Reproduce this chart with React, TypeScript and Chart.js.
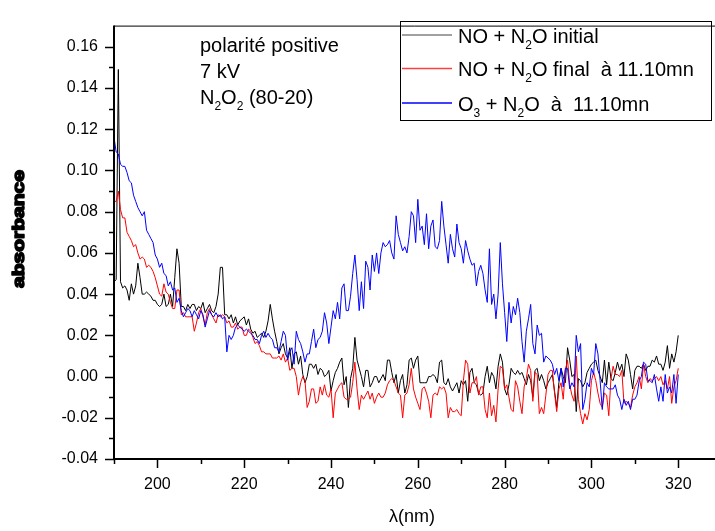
import React, { useEffect, useRef } from 'react';
import { Chart, registerables } from 'chart.js';

Chart.register(...registerables);

// Sampling grid of the spectra (nm)
const wavelengthStart = 190;
const wavelengthStep = 0.5;

// NO + N2O initial (black)
const noInitial = [
  0.046, 0.047, 0.149, 0.046, 0.043, 0.044, 0.042, 0.037, 0.045, 0.040,
  0.044, 0.055, 0.048, 0.040, 0.040, 0.041, 0.040, 0.039, 0.037, 0.037,
  0.035, 0.034, 0.035, 0.040, 0.034, 0.035, 0.040, 0.034, 0.048, 0.062,
  0.055, 0.034, 0.034, 0.032, 0.035, 0.033, 0.035, 0.035, 0.032, 0.034,
  0.033, 0.036, 0.031, 0.033, 0.035, 0.032, 0.031, 0.034, 0.040, 0.053,
  0.053, 0.030, 0.030, 0.028, 0.030, 0.026, 0.029, 0.025, 0.027, 0.028,
  0.029, 0.025, 0.028, 0.023, 0.021, 0.022, 0.019, 0.020, 0.021, 0.019,
  0.022, 0.027, 0.035, 0.028, 0.022, 0.017, 0.011, 0.014, 0.016, 0.011,
  0.009, 0.014, 0.004, 0.011, 0.012, 0.006, 0.010, 0.001, -0.003, 0.000,
  0.006, 0.006, 0.004, 0.006, 0.001, 0.004, 0.003, 0.000, 0.001, 0.003,
  -0.007, -0.002, 0.002, 0.004, 0.007, 0.009, -0.004, 0.000, -0.015, -0.001,
  0.004, 0.019, 0.008, 0.004, 0.000, -0.005, 0.003, 0.003, -0.005, -0.003,
  0.000, 0.000, -0.003, -0.001, 0.001, -0.002, 0.008, 0.008, 0.002, -0.003,
  0.001, -0.008, -0.002, 0.001, -0.008, -0.004, 0.008, 0.009, 0.004, 0.008,
  0.010, -0.003, -0.003, -0.003, -0.003, 0.000, 0.000, 0.001, 0.000, -0.003,
  0.007, 0.008, -0.003, -0.004, -0.001, -0.005, -0.007, -0.005, -0.003, -0.008,
  -0.002, -0.004, -0.002, -0.012, 0.002, 0.004, -0.003, -0.004, -0.008, -0.009,
  -0.008, 0.000, 0.005, -0.003, 0.002, 0.000, -0.006, 0.005, 0.011, 0.007,
  -0.006, -0.009, -0.004, 0.004, 0.002, 0.001, 0.003, 0.001, 0.002, -0.001,
  -0.004, 0.001, -0.002, -0.010, 0.003, 0.004, -0.002, 0.001, -0.002, -0.006,
  -0.003, -0.001, 0.001, -0.007, -0.015, -0.003, 0.004, 0.000, -0.003, 0.014,
  0.008, 0.000, 0.001, -0.017, -0.001, -0.002, -0.005, -0.003, 0.002, 0.004,
  0.006, 0.007, 0.008, 0.003, 0.000, -0.003, 0.008, -0.004, 0.007, -0.001,
  -0.002, 0.002, 0.007, 0.003, 0.006, 0.000, 0.011, 0.008, 0.001, -0.006,
  0.003, 0.005, 0.005, 0.004, 0.006, 0.003, 0.005, 0.005, 0.008, 0.007,
  0.010, 0.006, 0.006, 0.003, 0.007, 0.015, 0.004, 0.011, 0.007, 0.012,
  0.020,
];

// NO + N2O final à 11.10mn (red)
const noFinal = [
  0.085, 0.085, 0.090, 0.081, 0.077, 0.077, 0.070, 0.068, 0.066, 0.063,
  0.064, 0.060, 0.057, 0.058, 0.057, 0.053, 0.054, 0.053, 0.051, 0.048,
  0.044, 0.040, 0.039, 0.045, 0.041, 0.040, 0.036, 0.033, 0.033, 0.042,
  0.042, 0.030, 0.031, 0.029, 0.029, 0.029, 0.029, 0.022, 0.026, 0.031,
  0.033, 0.029, 0.025, 0.031, 0.033, 0.030, 0.028, 0.026, 0.030, 0.029,
  0.030, 0.029, 0.026, 0.027, 0.024, 0.024, 0.026, 0.023, 0.024, 0.024,
  0.020, 0.020, 0.023, 0.022, 0.019, 0.016, 0.017, 0.015, 0.012, 0.012,
  0.011, 0.011, 0.011, 0.009, 0.009, 0.009, 0.010, 0.008, 0.011, 0.007,
  0.009, 0.003, 0.004, 0.004, 0.000, -0.009, -0.003, 0.000, -0.002, -0.015,
  -0.012, -0.006, -0.006, -0.013, -0.012, -0.005, -0.009, -0.004, -0.009, -0.010,
  -0.006, -0.020, -0.008, -0.006, -0.004, -0.003, -0.010, -0.011, -0.011, -0.010,
  -0.003, 0.007, -0.006, -0.016, -0.009, -0.011, -0.009, -0.007, -0.011, -0.008,
  -0.013, -0.010, -0.008, -0.010, -0.010, -0.008, -0.004, -0.002, -0.001, -0.002,
  -0.005, -0.008, -0.009, -0.020, -0.009, -0.008, -0.004, 0.004, -0.006, -0.010,
  -0.013, -0.016, -0.006, -0.005, -0.008, -0.012, -0.020, -0.009, -0.008, -0.009,
  -0.005, -0.006, -0.005, -0.008, -0.020, -0.015, -0.017, -0.017, -0.016, -0.018,
  -0.019, -0.002, 0.008, 0.006, -0.008, -0.003, -0.003, 0.000, -0.009, -0.005,
  -0.005, -0.016, -0.020, -0.008, -0.019, -0.014, -0.022, -0.006, 0.005, 0.004,
  -0.006, -0.004, -0.010, -0.016, -0.017, -0.002, -0.005, -0.012, -0.018, -0.005,
  -0.001, 0.006, 0.003, -0.012, 0.002, 0.001, -0.018, -0.015, -0.018, -0.009,
  0.001, 0.003, 0.003, -0.008, -0.017, -0.006, -0.003, -0.011, 0.003, 0.008,
  -0.004, -0.009, -0.012, 0.010, -0.011, -0.018, -0.023, -0.018, -0.021, -0.016,
  -0.002, 0.002, -0.002, -0.008, -0.013, -0.015, -0.008, -0.009, -0.019, -0.001,
  0.005, 0.001, 0.001, 0.000, 0.003, -0.013, -0.012, -0.013, -0.015, -0.009,
  -0.005, -0.003, 0.000, -0.006, 0.006, 0.000, -0.003, -0.001, -0.002, -0.001,
  0.000, -0.002, 0.000, -0.004, -0.002, -0.006, 0.000, -0.013, -0.005, -0.002,
  0.004,
];

// O3 + N2O à 11.10mn (blue)
const o3Final = [
  0.116, 0.109, 0.108, 0.103, 0.102, 0.102, 0.099, 0.095, 0.094, 0.088,
  0.085, 0.082, 0.080, 0.078, 0.080, 0.071, 0.069, 0.067, 0.065, 0.059,
  0.057, 0.053, 0.055, 0.050, 0.049, 0.044, 0.046, 0.042, 0.043, 0.036,
  0.038, 0.032, 0.029, 0.031, 0.033, 0.032, 0.029, 0.032, 0.030, 0.028,
  0.032, 0.030, 0.024, 0.028, 0.032, 0.030, 0.029, 0.031, 0.029, 0.030,
  0.028, 0.029, 0.012, 0.020, 0.018, 0.020, 0.024, 0.025, 0.024, 0.023,
  0.022, 0.023, 0.022, 0.021, 0.020, 0.018, 0.018, 0.016, 0.020, 0.022,
  0.019, 0.021, 0.019, 0.018, 0.014, 0.014, 0.012, 0.017, 0.022, 0.020,
  0.008, 0.012, 0.014, 0.006, 0.022, 0.018, 0.016, 0.012, 0.007, 0.011,
  0.011, 0.017, 0.023, 0.014, 0.018, 0.019, 0.022, 0.031, 0.026, 0.016,
  0.024, 0.032, 0.028, 0.036, 0.028, 0.043, 0.045, 0.032, 0.032, 0.039,
  0.050, 0.059, 0.047, 0.032, 0.046, 0.033, 0.056, 0.053, 0.042, 0.059,
  0.051, 0.060, 0.050, 0.060, 0.065, 0.063, 0.064, 0.066, 0.060, 0.057,
  0.078, 0.069, 0.065, 0.061, 0.063, 0.060, 0.068, 0.080, 0.078, 0.065,
  0.086, 0.071, 0.073, 0.064, 0.079, 0.062, 0.073, 0.076, 0.063, 0.062,
  0.066, 0.085, 0.073, 0.064, 0.055, 0.069, 0.062, 0.058, 0.074, 0.065,
  0.062, 0.055, 0.066, 0.061, 0.057, 0.054, 0.055, 0.044, 0.051, 0.054,
  0.050, 0.042, 0.036, 0.062, 0.035, 0.040, 0.028, 0.040, 0.065, 0.045,
  0.031, 0.017, 0.036, 0.026, 0.034, 0.030, 0.038, 0.031, 0.017, 0.007,
  0.022, 0.028, 0.035, 0.016, 0.011, 0.025, 0.020, 0.021, 0.007, 0.010,
  0.009, 0.008, 0.006, 0.001, 0.004, -0.002, 0.004, -0.005, 0.004, 0.004,
  -0.006, -0.003, -0.005, 0.020, 0.012, 0.016, -0.016, -0.011, -0.003, -0.005,
  0.004, 0.001, 0.016, 0.011, -0.002, -0.016, -0.003, -0.005, -0.006, -0.006,
  -0.006, -0.004, -0.009, -0.011, -0.016, -0.011, -0.014, -0.012, -0.016, -0.011,
  -0.011, -0.009, -0.002, 0.000, 0.007, 0.006, -0.002, -0.002, -0.003, 0.001,
  -0.006, -0.012, -0.005, -0.012, 0.001, -0.008, -0.005, -0.008, 0.001, -0.013,
  0.001,
];

const xTickValues = [200, 220, 240, 260, 280, 300, 320];
const xMinorTickValues = [190, 210, 230, 250, 270, 290, 310];
const yTickValues = [-0.04, -0.02, 0, 0.02, 0.04, 0.06, 0.08, 0.1, 0.12, 0.14, 0.16];
const yMinorTickValues = [-0.03, -0.01, 0.01, 0.03, 0.05, 0.07, 0.09, 0.11, 0.13, 0.15];

const seriesColors = ['#000000', '#ff0000', '#0000ff'];
const legendLineColors = ['rgb(128,128,128)', 'rgb(255,64,64)', 'rgb(0,0,255)'];
const seriesNames = ['NO + N₂O initial', 'NO + N₂O final  à 11.10mn', 'O₃ + N₂O  à  11.10mn'];

type Piece = { t: string; sub?: boolean };
const legendRich: Piece[][] = [
  [{ t: 'NO + N' }, { t: '2', sub: true }, { t: 'O initial' }],
  [{ t: 'NO + N' }, { t: '2', sub: true }, { t: 'O final  à 11.10mn' }],
  [{ t: 'O' }, { t: '3', sub: true }, { t: ' + N' }, { t: '2', sub: true }, { t: 'O  à  11.10mn' }],
];
const noteLines: Piece[][] = [
  [{ t: 'polarité positive' }],
  [{ t: '7 kV' }],
  [{ t: 'N' }, { t: '2', sub: true }, { t: 'O' }, { t: '2', sub: true }, { t: ' (80-20)' }],
];

const FONT = "'Liberation Sans', Arial, sans-serif";

function drawRich(ctx: CanvasRenderingContext2D, pieces: Piece[], x: number, baseline: number, size: number) {
  let cx = x;
  for (const p of pieces) {
    if (p.sub) {
      ctx.font = `${Math.round(size * 0.62)}px ${FONT}`;
      ctx.fillText(p.t, cx, baseline + size * 0.3);
    } else {
      ctx.font = `${size}px ${FONT}`;
      ctx.fillText(p.t, cx, baseline);
    }
    cx += ctx.measureText(p.t).width;
  }
}

const decorPlugin = {
  id: 'decor',
  afterDatasetsDraw(chart: any) {
    const { ctx, chartArea: a, scales } = chart;
    const xs = scales.x;
    const ys = scales.y;
    ctx.save();
    ctx.strokeStyle = '#000';
    ctx.fillStyle = '#000';
    // frame top line
    ctx.lineWidth = 1;
    ctx.beginPath();
    ctx.moveTo(a.left, a.top + 0.5);
    ctx.lineTo(a.right, a.top + 0.5);
    ctx.stroke();
    // left and bottom axes
    ctx.lineWidth = 2;
    ctx.beginPath();
    ctx.moveTo(a.left, a.top);
    ctx.lineTo(a.left, a.bottom + 1);
    ctx.moveTo(a.left - 1, a.bottom);
    ctx.lineTo(a.right, a.bottom);
    ctx.stroke();
    // ticks
    ctx.lineWidth = 1.5;
    ctx.beginPath();
    yTickValues.forEach((v) => {
      const py = Math.round(ys.getPixelForValue(v)) + 0.5;
      ctx.moveTo(a.left - 9, py);
      ctx.lineTo(a.left, py);
    });
    yMinorTickValues.forEach((v) => {
      const py = Math.round(ys.getPixelForValue(v)) + 0.5;
      ctx.moveTo(a.left - 5, py);
      ctx.lineTo(a.left, py);
    });
    xTickValues.forEach((v) => {
      const px = Math.round(xs.getPixelForValue(v)) + 0.5;
      ctx.moveTo(px, a.bottom);
      ctx.lineTo(px, a.bottom + 9);
    });
    xMinorTickValues.forEach((v) => {
      const px = Math.round(xs.getPixelForValue(v)) + 0.5;
      ctx.moveTo(px, a.bottom);
      ctx.lineTo(px, a.bottom + 5);
    });
    ctx.stroke();

    // axis titles
    ctx.textAlign = 'center';
    ctx.textBaseline = 'middle';
    ctx.font = `18px ${FONT}`;
    ctx.fillText('λ(nm)', 412, 517);

    ctx.save();
    ctx.translate(19, 229);
    ctx.rotate(-Math.PI / 2);
    ctx.scale(1.05, 0.85);
    ctx.font = `bold 20px ${FONT}`;
    ctx.lineWidth = 1.8;
    ctx.lineJoin = 'round';
    ctx.strokeStyle = '#000';
    ctx.strokeText('absorbance', 0, 0);
    ctx.fillText('absorbance', 0, 0);
    ctx.restore();

    // annotation
    ctx.textAlign = 'left';
    ctx.textBaseline = 'alphabetic';
    ctx.fillStyle = '#000';
    const noteBase = [52, 78, 103.5];
    noteLines.forEach((line, i) => drawRich(ctx, line, 200, noteBase[i], 20));

    // legend box
    ctx.lineWidth = 1;
    ctx.strokeStyle = '#000';
    ctx.strokeRect(400.5, 21.5, 311, 99);
    const rowY = [35, 68.5, 103];
    for (let i = 0; i < legendRich.length; i++) {
      ctx.save();
      ctx.strokeStyle = legendLineColors[i];
      ctx.lineWidth = 1.5;
      ctx.beginPath();
      ctx.moveTo(402, rowY[i]);
      ctx.lineTo(452, rowY[i]);
      ctx.stroke();
      ctx.restore();
      ctx.fillStyle = '#000';
      drawRich(ctx, legendRich[i], 458, rowY[i] + 7.5, 20);
    }
    ctx.restore();
  },
};

export default function App() {
  const canvasRef = useRef<HTMLCanvasElement | null>(null);

  useEffect(() => {
    const canvas = canvasRef.current;
    if (!canvas) return;
    const wavelengths = noInitial.map((_, i) => wavelengthStart + i * wavelengthStep);
    const toPoints = (vals: number[]) => vals.map((v, i) => ({ x: wavelengths[i], y: v }));
    const allSeries = [noInitial, noFinal, o3Final];

    const chart = new Chart(canvas, {
      type: 'line',
      data: {
        datasets: allSeries.map((vals, i) => ({
          label: seriesNames[i],
          data: toPoints(vals),
          borderColor: seriesColors[i],
          borderWidth: 1,
          pointRadius: 0,
          tension: 0,
          fill: false,
          order: 3 - i,
        })),
      },
      options: {
        animation: false,
        responsive: false,
        maintainAspectRatio: false,
        events: [],
        layout: { padding: { top: 8, right: 0, bottom: 0, left: 0 } },
        plugins: {
          legend: { display: false },
          title: { display: false },
          tooltip: { enabled: false },
        },
        scales: {
          x: {
            type: 'linear',
            min: 190,
            max: 328.47,
            grid: { display: false, drawTicks: false },
            border: { display: false },
            ticks: {
              color: '#000',
              font: { size: 16, family: FONT },
              padding: 16,
              maxRotation: 0,
              autoSkip: false,
              callback: (v: any) => String(v),
            },
            afterBuildTicks: (s: any) => {
              s.ticks = xTickValues.map((v) => ({ value: v }));
            },
            afterFit: (s: any) => {
              s.height = 72;
            },
          },
          y: {
            type: 'linear',
            min: -0.04,
            max: 0.1703,
            grid: { display: false, drawTicks: false },
            border: { display: false },
            ticks: {
              color: '#000',
              font: { size: 16, family: FONT },
              padding: 16,
              autoSkip: false,
              callback: (v: any) => Number(v).toFixed(2),
            },
            afterBuildTicks: (s: any) => {
              s.ticks = yTickValues.map((v) => ({ value: v }));
            },
            afterFit: (s: any) => {
              s.width = 114;
            },
          },
        },
      },
      plugins: [decorPlugin],
    });
    return () => chart.destroy();
  }, []);

  return (
    <div style={{ position: 'fixed', left: 0, top: 0, width: 715, height: 531, background: '#fff' }}>
      <canvas ref={canvasRef} width={715} height={531} style={{ display: 'block', width: 715, height: 531 }} />
    </div>
  );
}
